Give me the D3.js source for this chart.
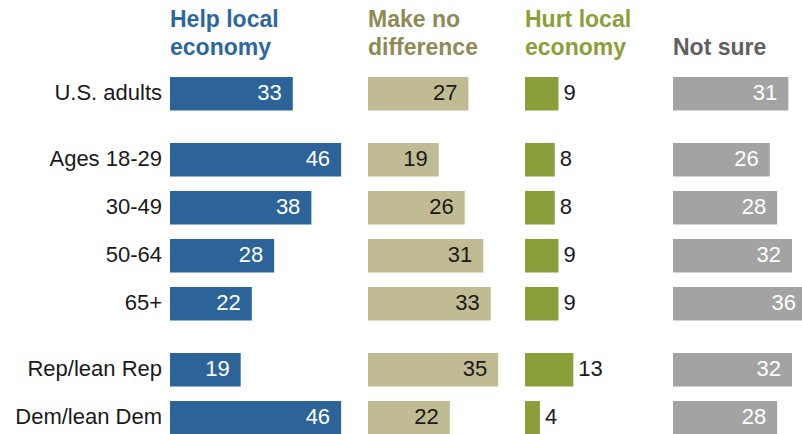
<html lang="en">
<head>
  <meta charset="UTF-8"/>
  <title>Local economy</title>
  <script src="https://d3js.org/d3.v7.min.js"></script>
  <style>
    body { margin: 0; background: #fff; }
    text { font-family: 'Liberation Sans', Arial, sans-serif; }
    .head { font-weight: bold; font-size: 23px; }
    .cat { font-size: 22px; fill: #1a1a1a; }
    .val { font-size: 22px; }
  </style>
</head>
<body>
  <svg width="802" height="434"></svg>
  <script>
  const categories = ['U.S. adults', 'Ages 18-29', '30-49', '50-64', '65+', 'Rep/lean Rep', 'Dem/lean Dem'];
  const groups = [0, 1, 1, 1, 1, 2, 2];
  const help = [33, 46, 38, 28, 22, 19, 46];
  const noDiff = [27, 19, 26, 31, 33, 35, 22];
  const hurt = [9, 8, 8, 9, 9, 13, 4];
  const notSure = [31, 26, 28, 32, 36, 32, 28];

  const columns = [
    { title: ['Help local', 'economy'], values: help, x0: 170, bar: '#2c6399', head: '#2d67a0', text: '#fff', inside: true },
    { title: ['Make no', 'difference'], values: noDiff, x0: 368, bar: '#c0bb93', head: '#8f8a54', text: '#1a1a1a', inside: true },
    { title: ['Hurt local', 'economy'], values: hurt, x0: 525, bar: '#8a9e3a', head: '#8a9e3a', text: '#1a1a1a', inside: false },
    { title: ['', 'Not sure'], values: notSure, x0: 673, bar: '#a3a3a3', head: '#606060', text: '#fff', inside: true }
  ];

  const svg = d3.select('svg');

  const x = d3.scaleLinear().domain([0, 10]).range([0, 37.2]);

  const rowStep = 48;
  const groupGap = 18;
  const y = d3.scaleLinear().domain([0, 1]).range([77, 77 + rowStep]);
  const rowY = (i) => y(i) + groups[i] * groupGap;
  const barH = 33.5;

  // category labels
  svg.append('g')
    .selectAll('text')
    .data(categories)
    .join('text')
    .attr('class', 'cat')
    .attr('x', 162)
    .attr('y', (d, i) => rowY(i) + barH / 2 - 1)
    .attr('dy', '0.35em')
    .attr('text-anchor', 'end')
    .text((d) => d);

  columns.forEach((c) => {
    const g = svg.append('g').attr('transform', `translate(${c.x0}, 0)`);

    g.selectAll('.head')
      .data(c.title)
      .join('text')
      .attr('class', 'head')
      .attr('x', 0)
      .attr('y', (d, i) => 27 + i * 28)
      .attr('fill', c.head)
      .text((d) => d);

    g.selectAll('rect')
      .data(c.values)
      .join('rect')
      .attr('x', 0)
      .attr('y', (d, i) => rowY(i))
      .attr('width', (d) => x(d))
      .attr('height', barH)
      .attr('fill', c.bar);

    g.selectAll('.val')
      .data(c.values)
      .join('text')
      .attr('class', 'val')
      .attr('x', (d) => c.inside ? x(d) - 11 : x(d) + 5)
      .attr('y', (d, i) => rowY(i) + barH / 2 - 1)
      .attr('dy', '0.35em')
      .attr('text-anchor', c.inside ? 'end' : 'start')
      .attr('fill', c.text)
      .text((d) => d);
  });
  </script>
</body>
</html>
